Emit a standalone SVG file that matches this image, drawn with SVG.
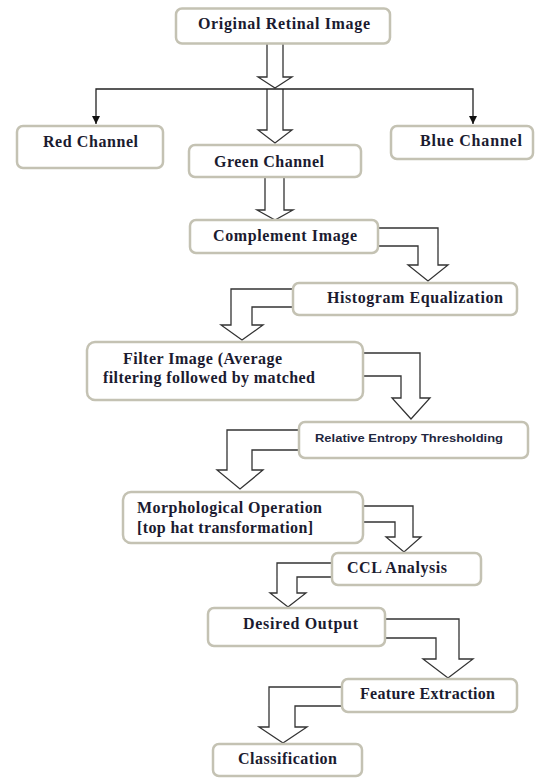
<svg xmlns="http://www.w3.org/2000/svg" width="535" height="778" viewBox="0 0 535 778">
<defs>
<style>
.box{fill:#fff;stroke:#c4c2b3;stroke-width:2.5}
.t{font-family:"Liberation Serif","Times New Roman",serif;font-weight:bold;font-size:16px;fill:#1b1b30}
.s{font-family:"Liberation Sans",Arial,sans-serif;font-weight:bold;font-size:11.5px;fill:#1f2740}
.blk{fill:#fff;stroke:#333;stroke-width:1.3;stroke-linejoin:miter}
.thin{fill:none;stroke:#222;stroke-width:1.3}
</style>
<marker id="ah" markerUnits="userSpaceOnUse" markerWidth="9" markerHeight="9" refX="8" refY="4" orient="auto">
<path d="M0,0 L8,4 L0,8 z" fill="#111"/>
</marker>
</defs>
<rect width="535" height="778" fill="#fff"/>
<g id="connectors">
<path class="blk" d="M267,44 V77 H258 L275,88 L292,77 H283 V44"/>
<path class="blk" d="M267,89 V130 H258 L275,143 L292,130 H283 V89"/>
<path class="thin" d="M275,89 H96 V124" marker-end="url(#ah)"/>
<path class="thin" d="M275,89 H473 V124" marker-end="url(#ah)"/>
<path class="blk" d="M265,177 V210 H257 L275,220 L293,210 H284 V177"/>
<path class="blk" d="M378,228 H438 V265 H448 L428,281 L408,265 H418 V246 H378 Z"/>
<path class="blk" d="M293,289 H231 V325 H221 L242,340 L263,325 H252 V307 H293 Z"/>
<path class="blk" d="M363,353 H420 V398 H430 L411,419 L392,398 H401 V376 H363 Z"/>
<path class="blk" d="M299,430 H227 V470 H217 L240,489 L263,470 H252 V450 H299 Z"/>
<path class="blk" d="M363,506 H413 V537 H421 L404,552 L386,537 H395 V522 H363 Z"/>
<path class="blk" d="M332,563 H277 V593 H270 L288,607 L306,593 H297 V577 H332 Z"/>
<path class="blk" d="M385,619 H459 V659 H473 L448,678 L423,659 H436 V638 H385 Z"/>
<path class="blk" d="M342,687 H269 V727 H259 L283,743 L307,727 H295 V706 H342 Z"/>
</g>
<g id="original"><rect class="box" x="176" y="8.5" width="214" height="35" rx="6"/><text class="t" x="198" y="29" textLength="172" lengthAdjust="spacing">Original Retinal Image</text></g>
<g id="red"><rect class="box" x="17" y="126" width="146" height="42" rx="6"/><text class="t" x="43" y="147" textLength="95" lengthAdjust="spacing">Red Channel</text></g>
<g id="green"><rect class="box" x="189" y="145" width="172" height="32" rx="6"/><text class="t" x="214" y="167" textLength="110" lengthAdjust="spacing">Green Channel</text></g>
<g id="blue"><rect class="box" x="391" y="126" width="142" height="33" rx="6"/><text class="t" x="420" y="146" textLength="102" lengthAdjust="spacing">Blue Channel</text></g>
<g id="complement"><rect class="box" x="190" y="220" width="188" height="33" rx="6"/><text class="t" x="213" y="241" textLength="144" lengthAdjust="spacing">Complement Image</text></g>
<g id="histogram"><rect class="box" x="293" y="283" width="224" height="32" rx="6"/><text class="t" x="327" y="303" textLength="176" lengthAdjust="spacing">Histogram Equalization</text></g>
<g id="filter"><rect class="box" x="87" y="342" width="276" height="58" rx="8"/><text class="t" x="123" y="364" textLength="159" lengthAdjust="spacing">Filter Image (Average</text><text class="t" x="103" y="383" textLength="212" lengthAdjust="spacing">filtering followed by matched</text></g>
<g id="relative"><rect class="box" x="299" y="422" width="229" height="36" rx="6"/><text class="s" x="315" y="442" textLength="188" lengthAdjust="spacingAndGlyphs">Relative Entropy Thresholding</text></g>
<g id="morph"><rect class="box" x="123" y="492" width="240" height="51" rx="8"/><text class="t" x="137" y="513" textLength="185" lengthAdjust="spacing">Morphological Operation</text><text class="t" x="137" y="533" textLength="176" lengthAdjust="spacing">[top hat transformation]</text></g>
<g id="ccl"><rect class="box" x="332" y="553" width="149" height="32" rx="6"/><text class="t" x="347" y="573" textLength="100" lengthAdjust="spacing">CCL Analysis</text></g>
<g id="desired"><rect class="box" x="208" y="608" width="177" height="38" rx="6"/><text class="t" x="243" y="629" textLength="115" lengthAdjust="spacing">Desired Output</text></g>
<g id="feature"><rect class="box" x="342" y="679" width="175" height="33" rx="6"/><text class="t" x="360" y="699" textLength="135" lengthAdjust="spacing">Feature Extraction</text></g>
<g id="classification"><rect class="box" x="213" y="744" width="149" height="32" rx="6"/><text class="t" x="238" y="764" textLength="99" lengthAdjust="spacing">Classification</text></g>
</svg>
